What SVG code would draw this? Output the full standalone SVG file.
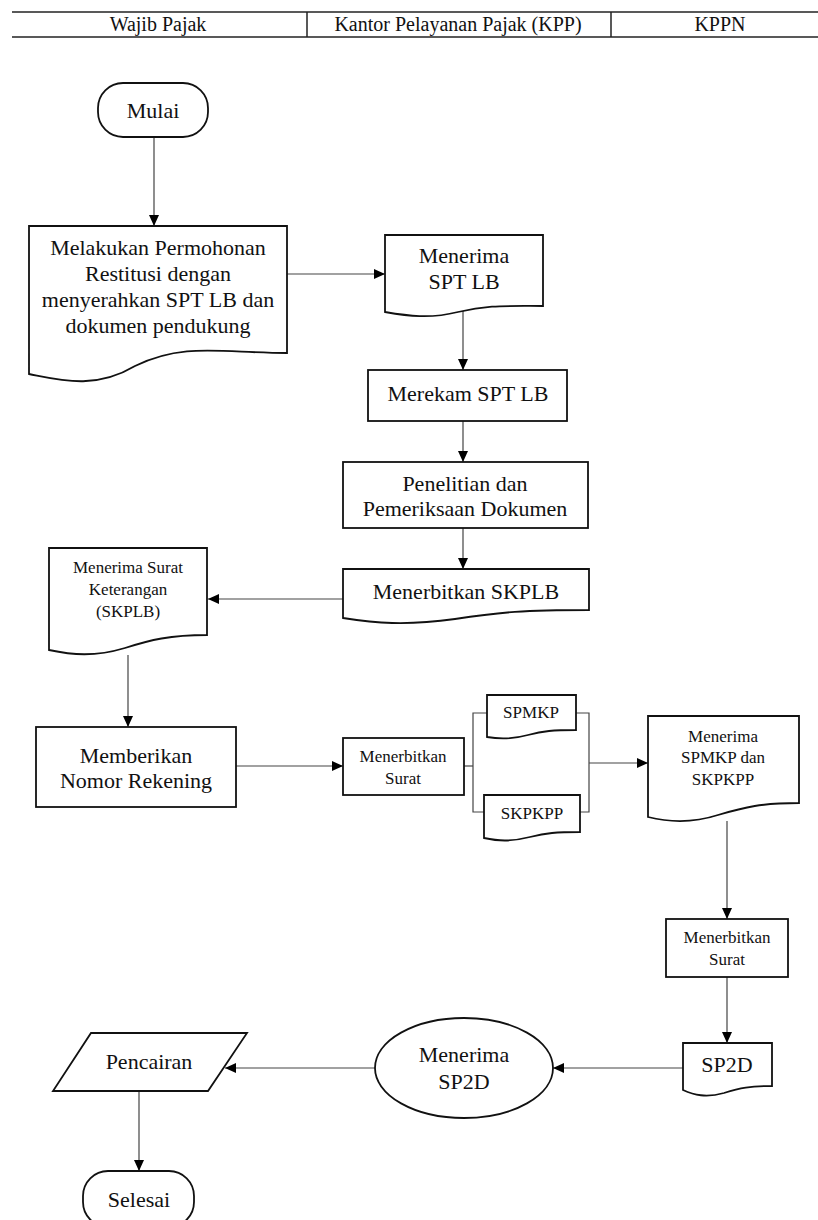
<svg xmlns="http://www.w3.org/2000/svg" width="818" height="1220" viewBox="0 0 818 1220" font-family="Liberation Serif, Times New Roman, serif">
<defs>
<marker id="arr" markerUnits="userSpaceOnUse" markerWidth="12" markerHeight="10" refX="11" refY="5" orient="auto">
<path d="M0,0 L11,5 L0,10 Z" fill="#000"/>
</marker>
<style>
.s{fill:#fff;stroke:#111;stroke-width:1.8}
.t{font-family:"Liberation Serif","Times New Roman",serif;fill:#111;text-anchor:middle}
.l{font-size:22px}
.m{font-size:17px}
.h{font-size:20px}
.c{fill:none;stroke:#444;stroke-width:1.2}
.hl{stroke:#222;stroke-width:1.5}
</style>
</defs>
<rect width="818" height="1220" fill="#fff"/>
<g id="header">
<line class="hl" x1="12" y1="12" x2="818" y2="12"/>
<line class="hl" x1="12" y1="37" x2="818" y2="37"/>
<line class="hl" x1="307" y1="12" x2="307" y2="37"/>
<line class="hl" x1="611" y1="12" x2="611" y2="37"/>
<text class="t h" x="158" y="31">Wajib Pajak</text>
<text class="t h" x="458" y="31">Kantor Pelayanan Pajak (KPP)</text>
<text class="t h" x="720" y="31">KPPN</text>
</g>
<g id="connectors">
<path class="c" d="M154,137 V226" marker-end="url(#arr)"/>
<path class="c" d="M287,274 H385" marker-end="url(#arr)"/>
<path class="c" d="M463,311 V370" marker-end="url(#arr)"/>
<path class="c" d="M463,421 V462" marker-end="url(#arr)"/>
<path class="c" d="M463,528 V569" marker-end="url(#arr)"/>
<path class="c" d="M343,599 H208" marker-end="url(#arr)"/>
<path class="c" d="M128,655 V727" marker-end="url(#arr)"/>
<path class="c" d="M236,766 H343" marker-end="url(#arr)"/>
<path class="c" d="M464,766 H473"/>
<path class="c" d="M487,713 H473 V812 H484"/>
<path class="c" d="M576,713 H589 V812 H580"/>
<path class="c" d="M589,763 H648" marker-end="url(#arr)"/>
<path class="c" d="M727,821 V919" marker-end="url(#arr)"/>
<path class="c" d="M727,977 V1043" marker-end="url(#arr)"/>
<path class="c" d="M683,1068 H553" marker-end="url(#arr)"/>
<path class="c" d="M375,1068 H225" marker-end="url(#arr)"/>
<path class="c" d="M139,1091 V1171" marker-end="url(#arr)"/>
</g>
<g id="mulai">
<rect class="s" x="98" y="83" width="110" height="54" rx="25"/>
<text class="t l" x="153" y="118">Mulai</text>
</g>
<g id="permohonan">
<path class="s" d="M29,226 H287 V353 C222,353 184,342 135,366 C95,390 60,380 29,374 Z"/>
<text class="t l" x="158" y="255">Melakukan Permohonan</text>
<text class="t l" x="158" y="281">Restitusi dengan</text>
<text class="t l" x="158" y="307">menyerahkan SPT LB dan</text>
<text class="t l" x="158" y="333">dokumen pendukung</text>
</g>
<g id="menerima-spt">
<path class="s" d="M385,235 H543 V306 C503,306 487,305 458,312 C430,319 408,316 385,312 Z"/>
<text class="t l" x="464" y="263">Menerima</text>
<text class="t l" x="464" y="289">SPT LB</text>
</g>
<g id="merekam">
<rect class="s" x="368" y="370" width="199" height="51"/>
<text class="t l" x="468" y="401">Merekam SPT LB</text>
</g>
<g id="penelitian">
<rect class="s" x="343" y="462" width="245" height="66"/>
<text class="t l" x="465" y="491">Penelitian dan</text>
<text class="t l" x="465" y="516">Pemeriksaan Dokumen</text>
</g>
<g id="skplb">
<path class="s" d="M343,569 H589 V610 C525,610 500,612 455,619 C405,626 375,623 343,618 Z"/>
<text class="t l" x="466" y="599">Menerbitkan SKPLB</text>
</g>
<g id="surat-keterangan">
<path class="s" d="M49,548 H207 V635 C170,635 150,640 125,648 C95,657 72,655 49,650 Z"/>
<text class="t m" x="128" y="573">Menerima Surat</text>
<text class="t m" x="128" y="595">Keterangan</text>
<text class="t m" x="128" y="617">(SKPLB)</text>
</g>
<g id="memberikan">
<rect class="s" x="36" y="727" width="200" height="80"/>
<text class="t l" x="136" y="763">Memberikan</text>
<text class="t l" x="136" y="788">Nomor Rekening</text>
</g>
<g id="menerbitkan-surat-kpp">
<rect class="s" x="343" y="738" width="121" height="57"/>
<text class="t m" x="403" y="762">Menerbitkan</text>
<text class="t m" x="403" y="784">Surat</text>
</g>
<g id="spmkp">
<path class="s" d="M487,695 H576 V730 C553,730 543,731 528,735 C510,740 498,739 487,737 Z"/>
<text class="t m" x="531" y="718">SPMKP</text>
</g>
<g id="skpkpp">
<path class="s" d="M484,795 H580 V832 C556,832 546,833 530,837 C510,842 498,841 484,838 Z"/>
<text class="t m" x="532" y="819">SKPKPP</text>
</g>
<g id="menerima-spmkp">
<path class="s" d="M648,716 H799 V803 C762,803 745,807 718,815 C690,824 668,822 648,817 Z"/>
<text class="t m" x="723" y="742">Menerima</text>
<text class="t m" x="723" y="763">SPMKP dan</text>
<text class="t m" x="723" y="785">SKPKPP</text>
</g>
<g id="menerbitkan-surat-kppn">
<rect class="s" x="666" y="919" width="122" height="58"/>
<text class="t m" x="727" y="943">Menerbitkan</text>
<text class="t m" x="727" y="965">Surat</text>
</g>
<g id="sp2d">
<path class="s" d="M683,1043 H772 V1086 C750,1086 740,1088 724,1093 C706,1098 694,1095 683,1090 Z"/>
<text class="t l" x="727" y="1072">SP2D</text>
</g>
<g id="menerima-sp2d">
<ellipse class="s" cx="464" cy="1068" rx="89" ry="50"/>
<text class="t l" x="464" y="1062">Menerima</text>
<text class="t l" x="464" y="1089">SP2D</text>
</g>
<g id="pencairan">
<path class="s" d="M91,1033 H247 L208,1091 H53 Z"/>
<text class="t l" x="149" y="1069">Pencairan</text>
</g>
<g id="selesai">
<rect class="s" x="83" y="1171" width="111" height="56" rx="25"/>
<text class="t l" x="139" y="1207">Selesai</text>
</g>
</svg>
